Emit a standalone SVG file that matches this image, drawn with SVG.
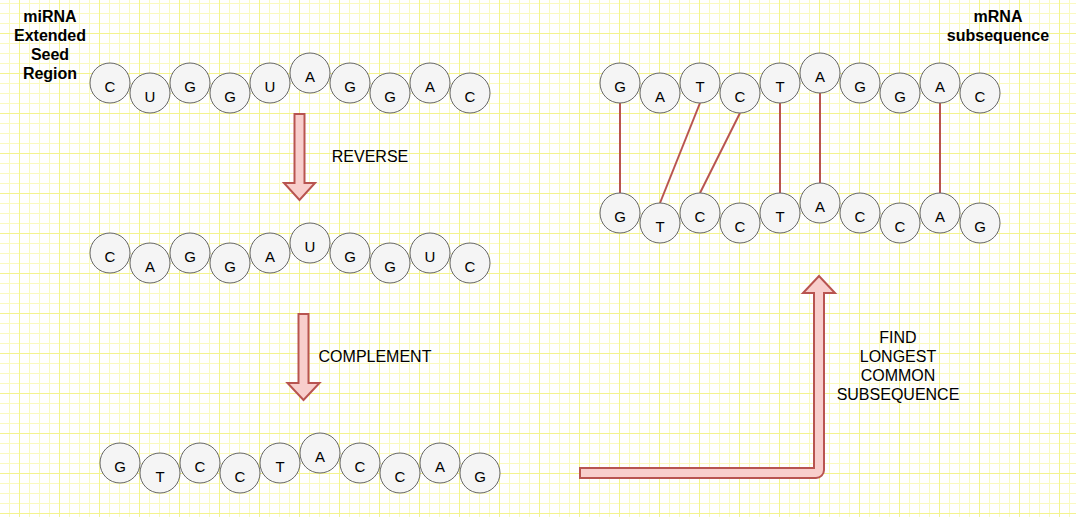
<svg xmlns="http://www.w3.org/2000/svg" width="1076" height="517" viewBox="0 0 1076 517">
<style>
.nd circle{fill:#f5f5f5;stroke:#666666;stroke-width:1}
.nd text{font-family:"Liberation Sans",Arial,sans-serif;font-size:15px;fill:#000;text-anchor:middle}
.lbl{font-family:"Liberation Sans",Arial,sans-serif;font-size:16px;fill:#000;text-anchor:middle}
.b{font-weight:bold}
.arr{fill:#f8cecc;stroke:#b85450;stroke-width:2;stroke-linejoin:miter}
.cn line{stroke:#b85450;stroke-width:2}
</style>
<defs>
<pattern id="grid" x="19" y="33" width="40" height="40" patternUnits="userSpaceOnUse">
<path d="M10.5,0V40M20.5,0V40M30.5,0V40M0,10.5H40M0,20.5H40M0,30.5H40" stroke="#fafac0" stroke-width="1" fill="none"/>
<path d="M0.5,0V40M0,0.5H40" stroke="#f3f38f" stroke-width="1" fill="none"/>
</pattern>
</defs>
<rect width="1076" height="517" fill="#ffffff"/>
<rect width="1076" height="517" fill="url(#grid)"/>

<g id="label-mirna">
<text class="lbl b" x="50" y="22">miRNA</text>
<text class="lbl b" x="50" y="41">Extended</text>
<text class="lbl b" x="50" y="60">Seed</text>
<text class="lbl b" x="50" y="79">Region</text>
</g>
<g id="label-mrna">
<text class="lbl b" x="998" y="22">mRNA</text>
<text class="lbl b" x="998" y="41">subsequence</text>
</g>

<g id="connectors" class="cn">
<line x1="620" y1="103" x2="620" y2="193"/>
<line x1="700" y1="103" x2="660" y2="203"/>
<line x1="740" y1="113" x2="700" y2="193"/>
<line x1="780" y1="103" x2="780" y2="193"/>
<line x1="820" y1="93" x2="820" y2="183"/>
<line x1="940" y1="103" x2="940" y2="193"/>
</g>

<g id="row1" class="nd">
<g id="r1n1"><circle cx="110" cy="83" r="20"/><text x="110" y="91.5">C</text></g>
<g id="r1n2"><circle cx="150" cy="93" r="20"/><text x="150" y="101.5">U</text></g>
<g id="r1n3"><circle cx="190" cy="83" r="20"/><text x="190" y="91.5">G</text></g>
<g id="r1n4"><circle cx="230" cy="93" r="20"/><text x="230" y="101.5">G</text></g>
<g id="r1n5"><circle cx="270" cy="83" r="20"/><text x="270" y="91.5">U</text></g>
<g id="r1n6"><circle cx="310" cy="73" r="20"/><text x="310" y="81.5">A</text></g>
<g id="r1n7"><circle cx="350" cy="83" r="20"/><text x="350" y="91.5">G</text></g>
<g id="r1n8"><circle cx="390" cy="93" r="20"/><text x="390" y="101.5">G</text></g>
<g id="r1n9"><circle cx="430" cy="83" r="20"/><text x="430" y="91.5">A</text></g>
<g id="r1n10"><circle cx="470" cy="93" r="20"/><text x="470" y="101.5">C</text></g>
</g>

<g id="row2" class="nd">
<g id="r2n1"><circle cx="110" cy="253" r="20"/><text x="110" y="261.5">C</text></g>
<g id="r2n2"><circle cx="150" cy="263" r="20"/><text x="150" y="271.5">A</text></g>
<g id="r2n3"><circle cx="190" cy="253" r="20"/><text x="190" y="261.5">G</text></g>
<g id="r2n4"><circle cx="230" cy="263" r="20"/><text x="230" y="271.5">G</text></g>
<g id="r2n5"><circle cx="270" cy="253" r="20"/><text x="270" y="261.5">A</text></g>
<g id="r2n6"><circle cx="310" cy="243" r="20"/><text x="310" y="251.5">U</text></g>
<g id="r2n7"><circle cx="350" cy="253" r="20"/><text x="350" y="261.5">G</text></g>
<g id="r2n8"><circle cx="390" cy="263" r="20"/><text x="390" y="271.5">G</text></g>
<g id="r2n9"><circle cx="430" cy="253" r="20"/><text x="430" y="261.5">U</text></g>
<g id="r2n10"><circle cx="470" cy="263" r="20"/><text x="470" y="271.5">C</text></g>
</g>

<g id="row3" class="nd">
<g id="r3n1"><circle cx="120" cy="463" r="20"/><text x="120" y="471.5">G</text></g>
<g id="r3n2"><circle cx="160" cy="473" r="20"/><text x="160" y="481.5">T</text></g>
<g id="r3n3"><circle cx="200" cy="463" r="20"/><text x="200" y="471.5">C</text></g>
<g id="r3n4"><circle cx="240" cy="473" r="20"/><text x="240" y="481.5">C</text></g>
<g id="r3n5"><circle cx="280" cy="463" r="20"/><text x="280" y="471.5">T</text></g>
<g id="r3n6"><circle cx="320" cy="453" r="20"/><text x="320" y="461.5">A</text></g>
<g id="r3n7"><circle cx="360" cy="463" r="20"/><text x="360" y="471.5">C</text></g>
<g id="r3n8"><circle cx="400" cy="473" r="20"/><text x="400" y="481.5">C</text></g>
<g id="r3n9"><circle cx="440" cy="463" r="20"/><text x="440" y="471.5">A</text></g>
<g id="r3n10"><circle cx="480" cy="473" r="20"/><text x="480" y="481.5">G</text></g>
</g>

<g id="mrna-top" class="nd">
<g id="mtn1"><circle cx="620" cy="83" r="20"/><text x="620" y="91.5">G</text></g>
<g id="mtn2"><circle cx="660" cy="93" r="20"/><text x="660" y="101.5">A</text></g>
<g id="mtn3"><circle cx="700" cy="83" r="20"/><text x="700" y="91.5">T</text></g>
<g id="mtn4"><circle cx="740" cy="93" r="20"/><text x="740" y="101.5">C</text></g>
<g id="mtn5"><circle cx="780" cy="83" r="20"/><text x="780" y="91.5">T</text></g>
<g id="mtn6"><circle cx="820" cy="73" r="20"/><text x="820" y="81.5">A</text></g>
<g id="mtn7"><circle cx="860" cy="83" r="20"/><text x="860" y="91.5">G</text></g>
<g id="mtn8"><circle cx="900" cy="93" r="20"/><text x="900" y="101.5">G</text></g>
<g id="mtn9"><circle cx="940" cy="83" r="20"/><text x="940" y="91.5">A</text></g>
<g id="mtn10"><circle cx="980" cy="93" r="20"/><text x="980" y="101.5">C</text></g>
</g>

<g id="mrna-bottom" class="nd">
<g id="mbn1"><circle cx="620" cy="213" r="20"/><text x="620" y="221.5">G</text></g>
<g id="mbn2"><circle cx="660" cy="223" r="20"/><text x="660" y="231.5">T</text></g>
<g id="mbn3"><circle cx="700" cy="213" r="20"/><text x="700" y="221.5">C</text></g>
<g id="mbn4"><circle cx="740" cy="223" r="20"/><text x="740" y="231.5">C</text></g>
<g id="mbn5"><circle cx="780" cy="213" r="20"/><text x="780" y="221.5">T</text></g>
<g id="mbn6"><circle cx="820" cy="203" r="20"/><text x="820" y="211.5">A</text></g>
<g id="mbn7"><circle cx="860" cy="213" r="20"/><text x="860" y="221.5">C</text></g>
<g id="mbn8"><circle cx="900" cy="223" r="20"/><text x="900" y="231.5">C</text></g>
<g id="mbn9"><circle cx="940" cy="213" r="20"/><text x="940" y="221.5">A</text></g>
<g id="mbn10"><circle cx="980" cy="223" r="20"/><text x="980" y="231.5">G</text></g>
</g>

<g id="arrow-reverse">
<polygon class="arr" points="294.5,114 304.5,114 304.5,183 315,183 299.5,200 284,183 294.5,183"/>
<text class="lbl" x="370" y="162">REVERSE</text>
</g>
<g id="arrow-complement">
<polygon class="arr" points="298.5,314 308.5,314 308.5,383 319.5,383 303.5,400 287.5,383 298.5,383"/>
<text class="lbl" x="375" y="362">COMPLEMENT</text>
</g>
<g id="arrow-lcs">
<path class="arr" d="M580,468 L814,468 L814,293 L803,293 L819,276 L835,293 L824,293 L824,470 A8,8 0 0 1 816,478 L580,478 Z"/>
<text class="lbl" x="898" y="343">FIND</text>
<text class="lbl" x="898" y="362">LONGEST</text>
<text class="lbl" x="898" y="381">COMMON</text>
<text class="lbl" x="898" y="400">SUBSEQUENCE</text>
</g>
</svg>
